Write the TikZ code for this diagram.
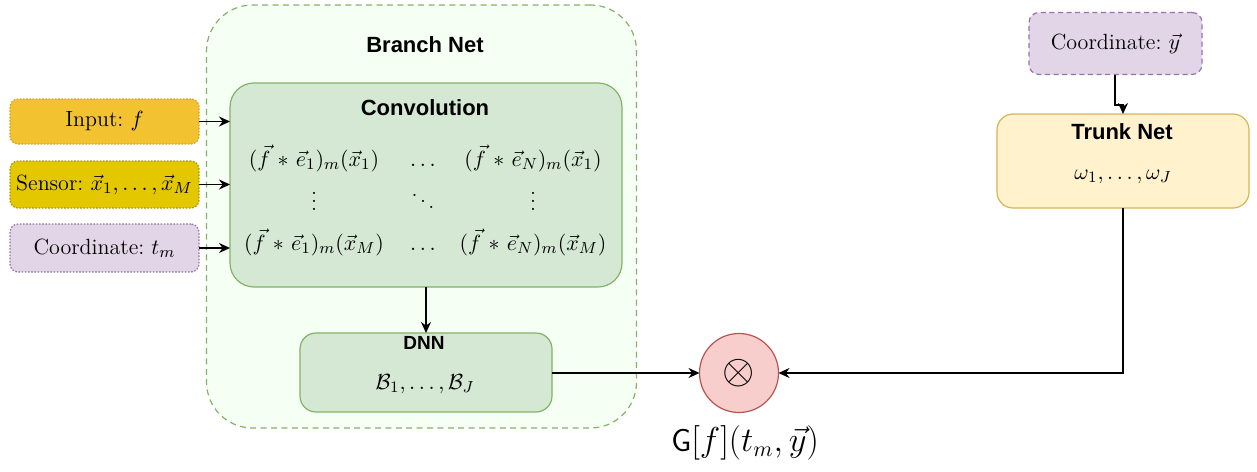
\documentclass[tikz,border=0pt]{standalone}
\usepackage{fontspec}
\usepackage{amsmath}
\newfontfamily\hdfont{Liberation Sans}
\usetikzlibrary{arrows.meta}
\frenchspacing

\definecolor{inputfill}{HTML}{F2C231}
\definecolor{inputline}{HTML}{D4A21E}
\definecolor{sensorfill}{HTML}{E3C800}
\definecolor{sensorline}{HTML}{B09500}
\definecolor{coordfill}{HTML}{E1D5E7}
\definecolor{coordline}{HTML}{9673A6}
\definecolor{greenfill}{HTML}{D5E8D4}
\definecolor{greenline}{HTML}{82B366}
\definecolor{branchfill}{HTML}{F6FFF4}
\definecolor{trunkfill}{HTML}{FFF2CC}
\definecolor{trunkline}{HTML}{D6B656}
\definecolor{prodfill}{HTML}{F8CECC}
\definecolor{prodline}{HTML}{B85450}

% convolution entry with a little extra room round the operator
\newcommand{\convterm}[2]{(\vec{f}\mskip2mu*\mskip2mu\vec{e}_{#1})_m(\vec{x}_{#2})}

\begin{document}
\begin{tikzpicture}[x=0.5pt,y=-0.5pt,
  font=\fontsize{11}{13}\selectfont,
  every node/.style={inner sep=0pt, outer sep=0pt},
  boxbase/.style={rectangle, line width=0.6pt},
  inbox/.style={boxbase, rounded corners=4pt, dash pattern=on 0.8pt off 0.8pt,
    minimum width=94.5pt},
  greenbox/.style={boxbase, draw=greenline, fill=greenfill},
  title/.style={font=\hdfont\bfseries\fontsize{11}{13}\selectfont},
  smalltitle/.style={font=\hdfont\bfseries\fontsize{9.5}{11}\selectfont},
  entry/.style={anchor=base},
  dotsnode/.style={text height=8pt, text depth=0pt},
  arr/.style={-{Stealth[length=5.5pt,width=5pt,inset=1.8pt]}, line width=0.75pt},
]
\path[use as bounding box] (0,0) rectangle (1257,471);

% branch network container
\node[boxbase, draw=greenline, fill=branchfill, rounded corners=23pt,
  dash pattern=on 3pt off 2.2pt, minimum width=215pt, minimum height=211.5pt]
  (branch) at (421.5,216.5) {};
\node[title] (branchlbl) at (425,45) {Branch Net};

% convolution block: entries sit on common baselines
\node[greenbox, rounded corners=12pt, minimum width=196pt, minimum height=102pt]
  (conv) at (426,185) {};
\node[title] (convlbl) at (425,108) {Convolution};
\node[entry] (c11) at (314,166) {$\convterm{1}{1}$};
\node[entry] (c12) at (423,166) {$\ldots$};
\node[entry] (c13) at (533,166) {$\convterm{N}{1}$};
\node[dotsnode] (c21) at (314,202) {$\vdots$};
\node[dotsnode] (c22) at (423,202) {$\ddots$};
\node[dotsnode] (c23) at (533,202) {$\vdots$};
\node[entry] (c31) at (314,250) {$\convterm{1}{M}$};
\node[entry] (c32) at (423,250) {$\ldots$};
\node[entry] (c33) at (533,250) {$\convterm{N}{M}$};

% fully connected block
\node[greenbox, rounded corners=8pt, minimum width=126pt, minimum height=39.5pt]
  (dnn) at (426,372.5) {};
\node[smalltitle] (dnnlbl) at (424,343) {DNN};
\node (dnnout) at (425,384) {$\mathcal{B}_1,\ldots,\mathcal{B}_J$};

% inputs
\node[inbox, draw=inputline, fill=inputfill, minimum height=22.5pt]
  (inp) at (104.5,121.5) {Input: $f$};
\node[inbox, draw=sensorline, fill=sensorfill, minimum height=23.5pt]
  (sens) at (104.5,184.5) {Sensor: $\vec{x}_1,\ldots,\vec{x}_M$};
\node[inbox, draw=coordline, fill=coordfill, minimum height=24pt]
  (tcoord) at (104.5,248) {Coordinate: $t_m$};

% trunk network
\node[boxbase, draw=coordline, fill=coordfill, rounded corners=5pt,
  dash pattern=on 2.5pt off 1.8pt, minimum width=86.5pt, minimum height=31pt]
  (ycoord) at (1115.5,43.5) {Coordinate: $\vec{y}$};
\node[boxbase, draw=trunkline, fill=trunkfill, rounded corners=8pt,
  minimum width=126pt, minimum height=47pt] (trunk) at (1123,161) {};
\node[title] (trunklbl) at (1122,132) {Trunk Net};
\node (trunkout) at (1123,177) {$\omega_1,\ldots,\omega_J$};

% product node
\node[circle, draw=prodline, fill=prodfill, line width=0.6pt, minimum size=39.5pt]
  (prod) at (739,373) {\fontsize{22}{26}\selectfont$\otimes$};
\node (outlbl) at (745,443) {\fontsize{16}{19}\selectfont$\mathsf{G}[f](t_m,\vec{y})$};

% connections
\draw[arr] (inp.east) -- (inp.east -| conv.west);
\draw[arr] (sens.east) -- (sens.east -| conv.west);
\draw[arr] (tcoord.east) -- (tcoord.east -| conv.west);
\draw[arr] (conv.south) -- (dnn.north);
\draw[arr] (dnn.east |- prod.west) -- (prod.west);
\coordinate (bend) at (1115,105);
\draw[arr] (ycoord.south -| bend) -- (bend) -- (bend -| trunk.north) -- (trunk.north);
\draw[arr] (trunk.south) |- (prod.east);
\end{tikzpicture}
\end{document}
